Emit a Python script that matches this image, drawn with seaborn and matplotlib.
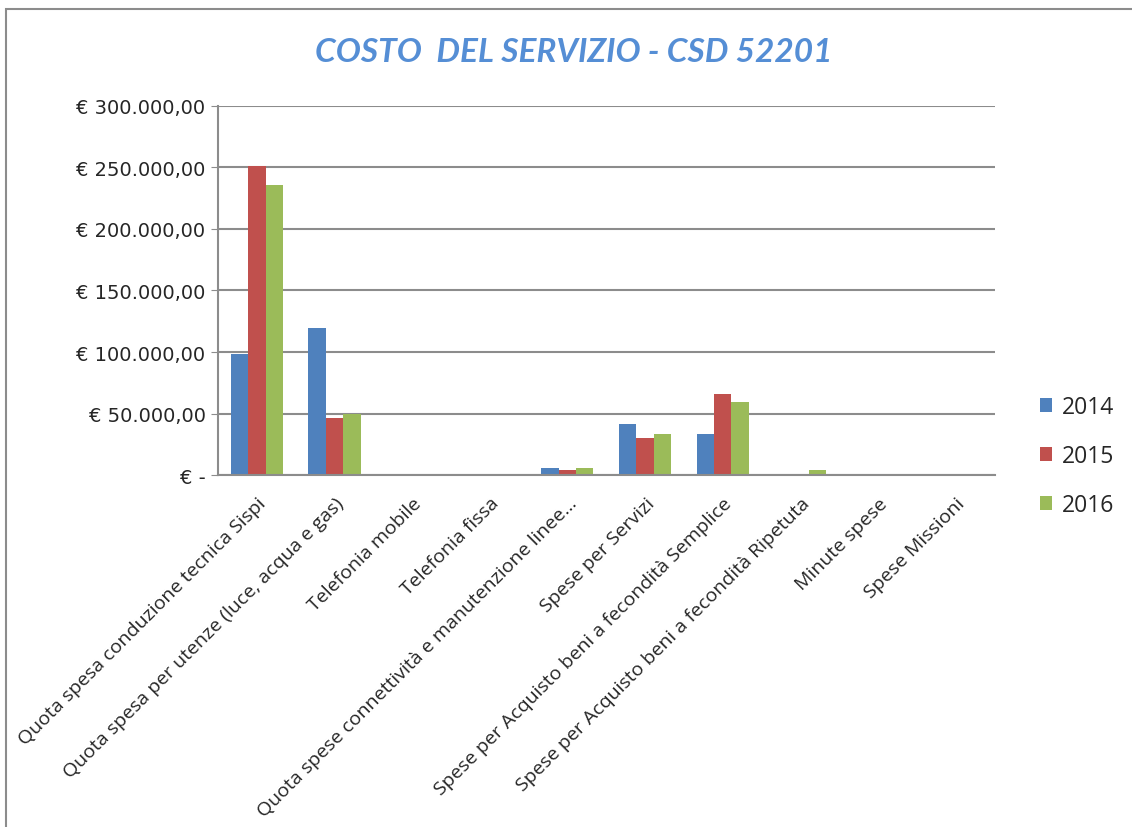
import pandas as pd
import seaborn as sns
import matplotlib.pyplot as plt
from matplotlib.patches import Rectangle
from matplotlib.ticker import FuncFormatter

# Categories and yearly costs
categories = [
    "Quota spesa conduzione tecnica Sispi",
    "Quota spesa per utenze (luce, acqua e gas)",
    "Telefonia mobile",
    "Telefonia fissa",
    "Quota spese connettività e manutenzione linee...",
    "Spese per Servizi",
    "Spese per Acquisto beni a fecondità Semplice",
    "Spese per Acquisto beni a fecondità Ripetuta",
    "Minute spese",
    "Spese Missioni",
]
years = ["2014", "2015", "2016"]
costs_2014 = [98000, 119500, 0, 300, 5700, 41500, 33300, 0, 0, 0]
costs_2015 = [251000, 46300, 0, 300, 4000, 30000, 65900, 0, 0, 0]
costs_2016 = [235800, 49600, 0, 0, 5500, 33300, 59300, 4200, 0, 0]

colors = ["#4F81BD", "#C0504D", "#9BBB59"]

df = pd.DataFrame({
    "categoria": categories * 3,
    "anno": [y for y in years for _ in categories],
    "costo": costs_2014 + costs_2015 + costs_2016,
})

sns.set_style("white")
plt.rcParams["font.family"] = ["Open Sans", "DejaVu Sans"]

fig = plt.figure(figsize=(11.32, 8.28), dpi=100)
ax = fig.add_axes([0.1926, 0.425, 0.686, 0.446])

sns.barplot(data=df, x="categoria", y="costo", hue="anno", palette=colors,
            width=0.67, ax=ax, saturation=1, edgecolor="none")

ax.set_ylim(0, 300000)
ax.set_yticks(range(0, 300001, 50000))


def euro(v, pos):
    if v == 0:
        return "€ -"
    return "€ " + f"{v:,.2f}".replace(",", "X").replace(".", ",").replace("X", ".")


ax.yaxis.set_major_formatter(FuncFormatter(euro))
ax.yaxis.grid(True, color="#8C8C8C", linewidth=1.5)
ax.set_axisbelow(True)
ax.set_xlim(-0.5, len(categories) - 0.5)

for side in ["top", "right"]:
    ax.spines[side].set_visible(False)
for side in ["left", "bottom"]:
    ax.spines[side].set_color("#8C8C8C")
    ax.spines[side].set_linewidth(1.5)

ax.tick_params(axis="y", left=True, length=5, color="#8C8C8C", pad=4)
ax.tick_params(axis="x", bottom=False, labelsize=14, pad=10)
plt.setp(ax.get_xticklabels(), rotation=45, ha="right", va="top", rotation_mode="anchor")
plt.setp(ax.get_yticklabels(), family="DejaVu Sans", fontsize=14)

ax.set_xlabel("")
ax.set_ylabel("")

ax.legend(title=None, loc="center left", bbox_to_anchor=(1.058, 0.051), frameon=False,
          handlelength=0.55, handleheight=0.55, labelspacing=1.1,
          handletextpad=0.4, borderpad=0, borderaxespad=0,
          prop={"family": ["Open Sans", "DejaVu Sans"], "size": 16.5})

fig.text(0.507, 0.936, "COSTO  DEL SERVIZIO - CSD 52201", ha="center", va="center",
         fontsize=24, fontweight="bold", fontstyle="italic", color="#558ED5",
         family=["Lato", "DejaVu Sans"])

fig.patches.append(Rectangle((0.005, -0.01), 1.2, 0.998, transform=fig.transFigure,
                             fill=False, edgecolor="#8C8C8C", linewidth=1.5))

fig.savefig("out.png", dpi=100)
